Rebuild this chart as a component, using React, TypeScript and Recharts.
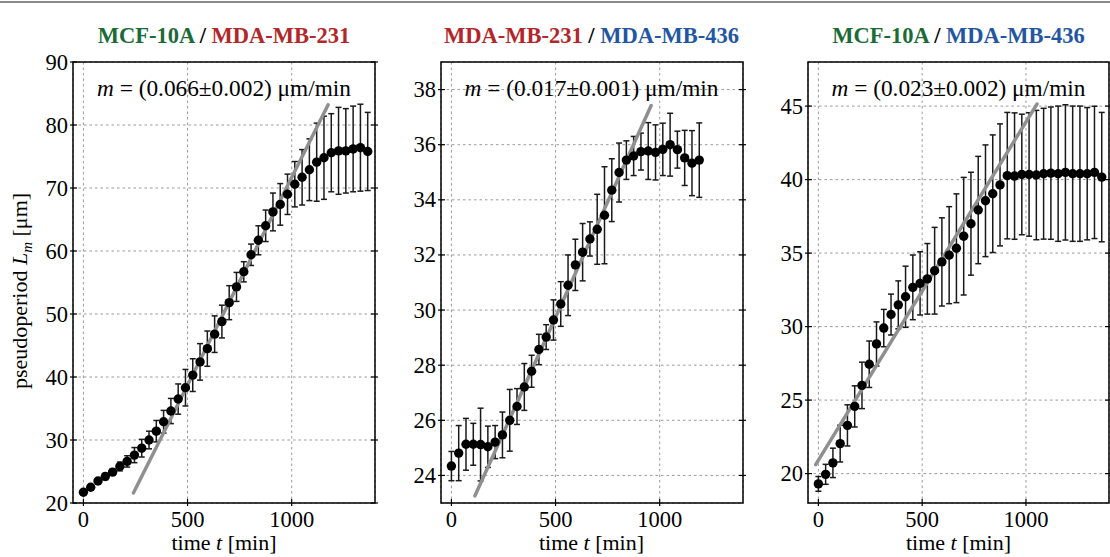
import React from "react";
import { CartesianGrid, ComposedChart, ErrorBar, ReferenceArea, Scatter, XAxis, YAxis } from "recharts";

// sampling times in minutes
const timesLong = [0, 35, 70, 105, 140, 175, 210, 245, 280, 315, 350, 385, 420, 455, 490, 525, 560, 595, 630, 665,
  700, 735, 770, 805, 840, 875, 910, 945, 980, 1015, 1050, 1085, 1120, 1155, 1190, 1225, 1260, 1295, 1330, 1365];
const timesShort = [0, 35, 70, 105, 140, 175, 210, 245, 280, 315, 350, 385, 420, 455, 490, 525, 560, 595, 630, 665,
  700, 735, 770, 805, 840, 875, 910, 945, 980, 1015, 1050, 1085, 1120, 1155, 1190];

// MCF-10A / MDA-MB-231
const lengthA = [21.7, 22.5, 23.5, 24.2, 24.9, 25.8, 26.6, 27.6, 28.7, 30.0, 31.4, 32.9, 34.6, 36.5, 38.3, 40.3, 42.4,
  44.5, 46.8, 48.8, 51.8, 54.3, 56.7, 59.4, 61.7, 64.0, 66.2, 67.4, 69.0, 70.6, 71.7, 72.9, 74.1, 74.8, 75.6, 75.9,
  75.9, 76.2, 76.4, 75.8];
const errA = [0.3, 0.4, 0.4, 0.5, 0.5, 0.7, 0.9, 1.2, 1.4, 1.4, 1.7, 1.8, 2.0, 2.4, 2.9, 2.6, 2.9, 2.8, 2.9, 2.6, 2.7,
  2.3, 1.6, 1.7, 2.3, 2.5, 3.0, 3.3, 3.2, 3.6, 4.4, 4.9, 6.2, 6.6, 6.2, 6.9, 6.7, 6.8, 6.9, 6.2];
const fitTimeA = [240, 1175];
const fitLengthA = [21.6, 83.2];

// MDA-MB-231 / MDA-MB-436
const lengthB = [24.34, 24.81, 25.13, 25.13, 25.12, 25.04, 25.21, 25.47, 26.0, 26.5, 27.21, 27.78, 28.57, 29.02, 29.64,
  30.22, 30.9, 31.64, 32.1, 32.58, 32.93, 33.44, 34.35, 34.99, 35.44, 35.59, 35.75, 35.77, 35.72, 35.83, 36.0, 35.82,
  35.52, 35.33, 35.44];
const errB = [0.53, 1.0, 0.94, 0.76, 1.32, 0.75, 0.6, 0.83, 1.12, 0.65, 0.85, 0.58, 0.55, 0.45, 0.73, 0.81, 1.1, 0.93,
  1.04, 0.62, 1.27, 1.76, 1.14, 1.07, 0.7, 0.71, 0.67, 1.03, 1.0, 0.95, 1.14, 0.67, 1.0, 1.18, 1.35];
const fitTimeB = [113, 959];
const fitLengthB = [23.26, 37.42];

// MCF-10A / MDA-MB-436
const lengthC = [19.3, 19.95, 20.73, 22.04, 23.28, 24.57, 26.0, 27.44, 28.82, 29.9, 30.82, 31.48, 32.03, 32.67, 32.94,
  33.25, 33.8, 34.4, 34.86, 35.33, 36.15, 37.0, 37.93, 38.56, 39.04, 39.64, 40.27, 40.24, 40.35, 40.35, 40.31, 40.4,
  40.44, 40.4, 40.49, 40.4, 40.4, 40.4, 40.49, 40.17];
const errC = [0.5, 0.68, 1.0, 1.25, 1.4, 1.4, 1.58, 1.58, 1.5, 1.27, 1.39, 1.63, 2.08, 2.2, 2.15, 2.4, 2.95, 3.0, 3.3,
  3.7, 4.0, 3.5, 3.65, 3.8, 4.0, 4.15, 4.3, 4.3, 4.1, 4.2, 4.4, 4.45, 4.5, 4.6, 4.6, 4.6, 4.6, 4.5, 4.5, 4.4];
const fitTimeC = [-13, 1053];
const fitLengthC = [20.61, 45.14];

const xTicks = [0, 500, 1000];
const yTicksA = [20, 30, 40, 50, 60, 70, 80, 90];
const yTicksB = [24, 26, 28, 30, 32, 34, 36, 38];
const yTicksC = [20, 25, 30, 35, 40, 45];

const GREEN = "#1b6b37";
const RED = "#b3262a";
const BLUE = "#2356a2";
const FONT = "'Liberation Serif', 'Times New Roman', serif";

const YW = 60;
const PLOT_TOP = 62;
const PLOT_BOTTOM = 503;
const XH = 50;
const H = 557;

type Title = { text: string; color: string }[];

function Panel(props: {
  left: number;
  width: number;
  times: number[];
  lengths: number[];
  errs: number[];
  fitT: number[];
  fitL: number[];
  yDomain: [number, number];
  yTicks: number[];
  title: Title;
  slope: string;
}) {
  const { left, width, yDomain } = props;
  const data = props.times.map((t, i) => ({ t, L: props.lengths[i], err: props.errs[i] }));
  const fit = props.fitT.map((t, i) => ({ t, L: props.fitL[i] }));
  const chartW = YW + width + 4;

  const yTick = (p: any) => (
    <g>
      <line x1={YW - 3} x2={YW + 4} y1={p.y} y2={p.y} stroke="#000" strokeWidth={1.2} />
      <line x1={YW + width - 4} x2={YW + width + 3} y1={p.y} y2={p.y} stroke="#000" strokeWidth={1.2} />
      <text x={YW - 5} y={p.y + 7.5} textAnchor="end" fontSize={22.5} fontFamily={FONT} fill="#000">
        {p.payload.value}
      </text>
    </g>
  );
  const xTick = (p: any) => (
    <g>
      <line x1={p.x} x2={p.x} y1={PLOT_BOTTOM - 4} y2={PLOT_BOTTOM + 3} stroke="#000" strokeWidth={1.2} />
      <text x={p.x} y={527} textAnchor="middle" fontSize={22.5} fontFamily={FONT} fill="#000">
        {p.payload.value}
      </text>
    </g>
  );

  const cx = left + width / 2;
  return (
    <>
      <div style={{ position: "absolute", left: left - YW, top: 0 }}>
        <ComposedChart
          width={chartW}
          height={H}
          margin={{ top: PLOT_TOP, right: 4, left: 0, bottom: H - PLOT_BOTTOM - XH }}
        >
          <CartesianGrid stroke="#999" strokeDasharray="2.5 3" strokeWidth={1} />
          <XAxis
            dataKey="t"
            type="number"
            domain={[-50, 1400]}
            ticks={xTicks}
            interval={0}
            allowDataOverflow
            height={XH}
            axisLine={false}
            tickLine={false}
            tick={xTick}
          />
          <YAxis
            dataKey="L"
            type="number"
            domain={yDomain}
            ticks={props.yTicks}
            interval={0}
            allowDataOverflow
            width={YW}
            axisLine={false}
            tickLine={false}
            tick={yTick}
          />
          <Scatter
            data={fit}
            line={{ stroke: "#8f8f8f", strokeWidth: 3.5, strokeLinecap: "round" }}
            shape={() => <g />}
            isAnimationActive={false}
          />
          <Scatter
            data={data}
            isAnimationActive={false}
            shape={(s: any) => <circle cx={s.cx} cy={s.cy} r={4.7} fill="#000" />}
          >
            <ErrorBar dataKey="err" direction="y" width={3} stroke="#1a1a1a" strokeWidth={1.5} isAnimationActive={false} />
          </Scatter>
          <ReferenceArea
            x1={-50}
            x2={1400}
            y1={yDomain[0]}
            y2={yDomain[1]}
            fill="none"
            stroke="#000"
            strokeWidth={1.5}
            ifOverflow="visible"
          />
        </ComposedChart>
      </div>
      <div
        style={{
          position: "absolute",
          left: cx - 200,
          width: 400,
          top: 23,
          textAlign: "center",
          fontFamily: FONT,
          fontWeight: "bold",
          fontSize: 22.5,
          lineHeight: "26px",
          whiteSpace: "nowrap",
        }}
      >
        {props.title.map((s, i) => (
          <span key={i} style={{ color: s.color }}>
            {s.text}
          </span>
        ))}
      </div>
      <div
        style={{
          position: "absolute",
          left: cx - 200,
          width: 400,
          top: 75,
          textAlign: "center",
          fontFamily: FONT,
          fontSize: 23.3,
          lineHeight: "26px",
          whiteSpace: "nowrap",
          color: "#000",
        }}
      >
        <i>m</i> = {props.slope} μm/min
      </div>
      <div
        style={{
          position: "absolute",
          left: cx - 150,
          width: 300,
          top: 530,
          textAlign: "center",
          fontFamily: FONT,
          fontSize: 22,
          lineHeight: "26px",
          whiteSpace: "nowrap",
          color: "#000",
        }}
      >
        time <i>t</i> [min]
      </div>
    </>
  );
}

export default function App() {
  return (
    <div
      style={{
        position: "absolute",
        left: 0,
        top: 0,
        width: 1110,
        height: 557,
        overflow: "hidden",
        background: "#fff",
      }}
    >
      <div style={{ position: "absolute", left: 0, top: 1, width: 1110, height: 2, background: "#8a8a8a" }} />
      <Panel
        left={73}
        width={302}
        times={timesLong}
        lengths={lengthA}
        errs={errA}
        fitT={fitTimeA}
        fitL={fitLengthA}
        yDomain={[20, 90]}
        yTicks={yTicksA}
        title={[
          { text: "MCF-10A", color: GREEN },
          { text: " / ", color: "#000" },
          { text: "MDA-MB-231", color: RED },
        ]}
        slope="(0.066±0.002)"
      />
      <Panel
        left={440.5}
        width={302}
        times={timesShort}
        lengths={lengthB}
        errs={errB}
        fitT={fitTimeB}
        fitL={fitLengthB}
        yDomain={[23, 39]}
        yTicks={yTicksB}
        title={[
          { text: "MDA-MB-231", color: RED },
          { text: " / ", color: "#000" },
          { text: "MDA-MB-436", color: BLUE },
        ]}
        slope="(0.017±0.001)"
      />
      <Panel
        left={808}
        width={301}
        times={timesLong}
        lengths={lengthC}
        errs={errC}
        fitT={fitTimeC}
        fitL={fitLengthC}
        yDomain={[18, 48]}
        yTicks={yTicksC}
        title={[
          { text: "MCF-10A", color: GREEN },
          { text: " / ", color: "#000" },
          { text: "MDA-MB-436", color: BLUE },
        ]}
        slope="(0.023±0.002)"
      />
      <div
        style={{
          position: "absolute",
          left: 20 - 150,
          top: 291 - 13,
          width: 300,
          height: 26,
          lineHeight: "26px",
          textAlign: "center",
          transform: "rotate(-90deg)",
          fontFamily: FONT,
          fontSize: 22,
          whiteSpace: "nowrap",
          color: "#000",
        }}
      >
        pseudoperiod <i>L</i>
        <sub style={{ fontSize: 15, fontStyle: "italic", lineHeight: 0 }}>m</sub> [μm]
      </div>
    </div>
  );
}
